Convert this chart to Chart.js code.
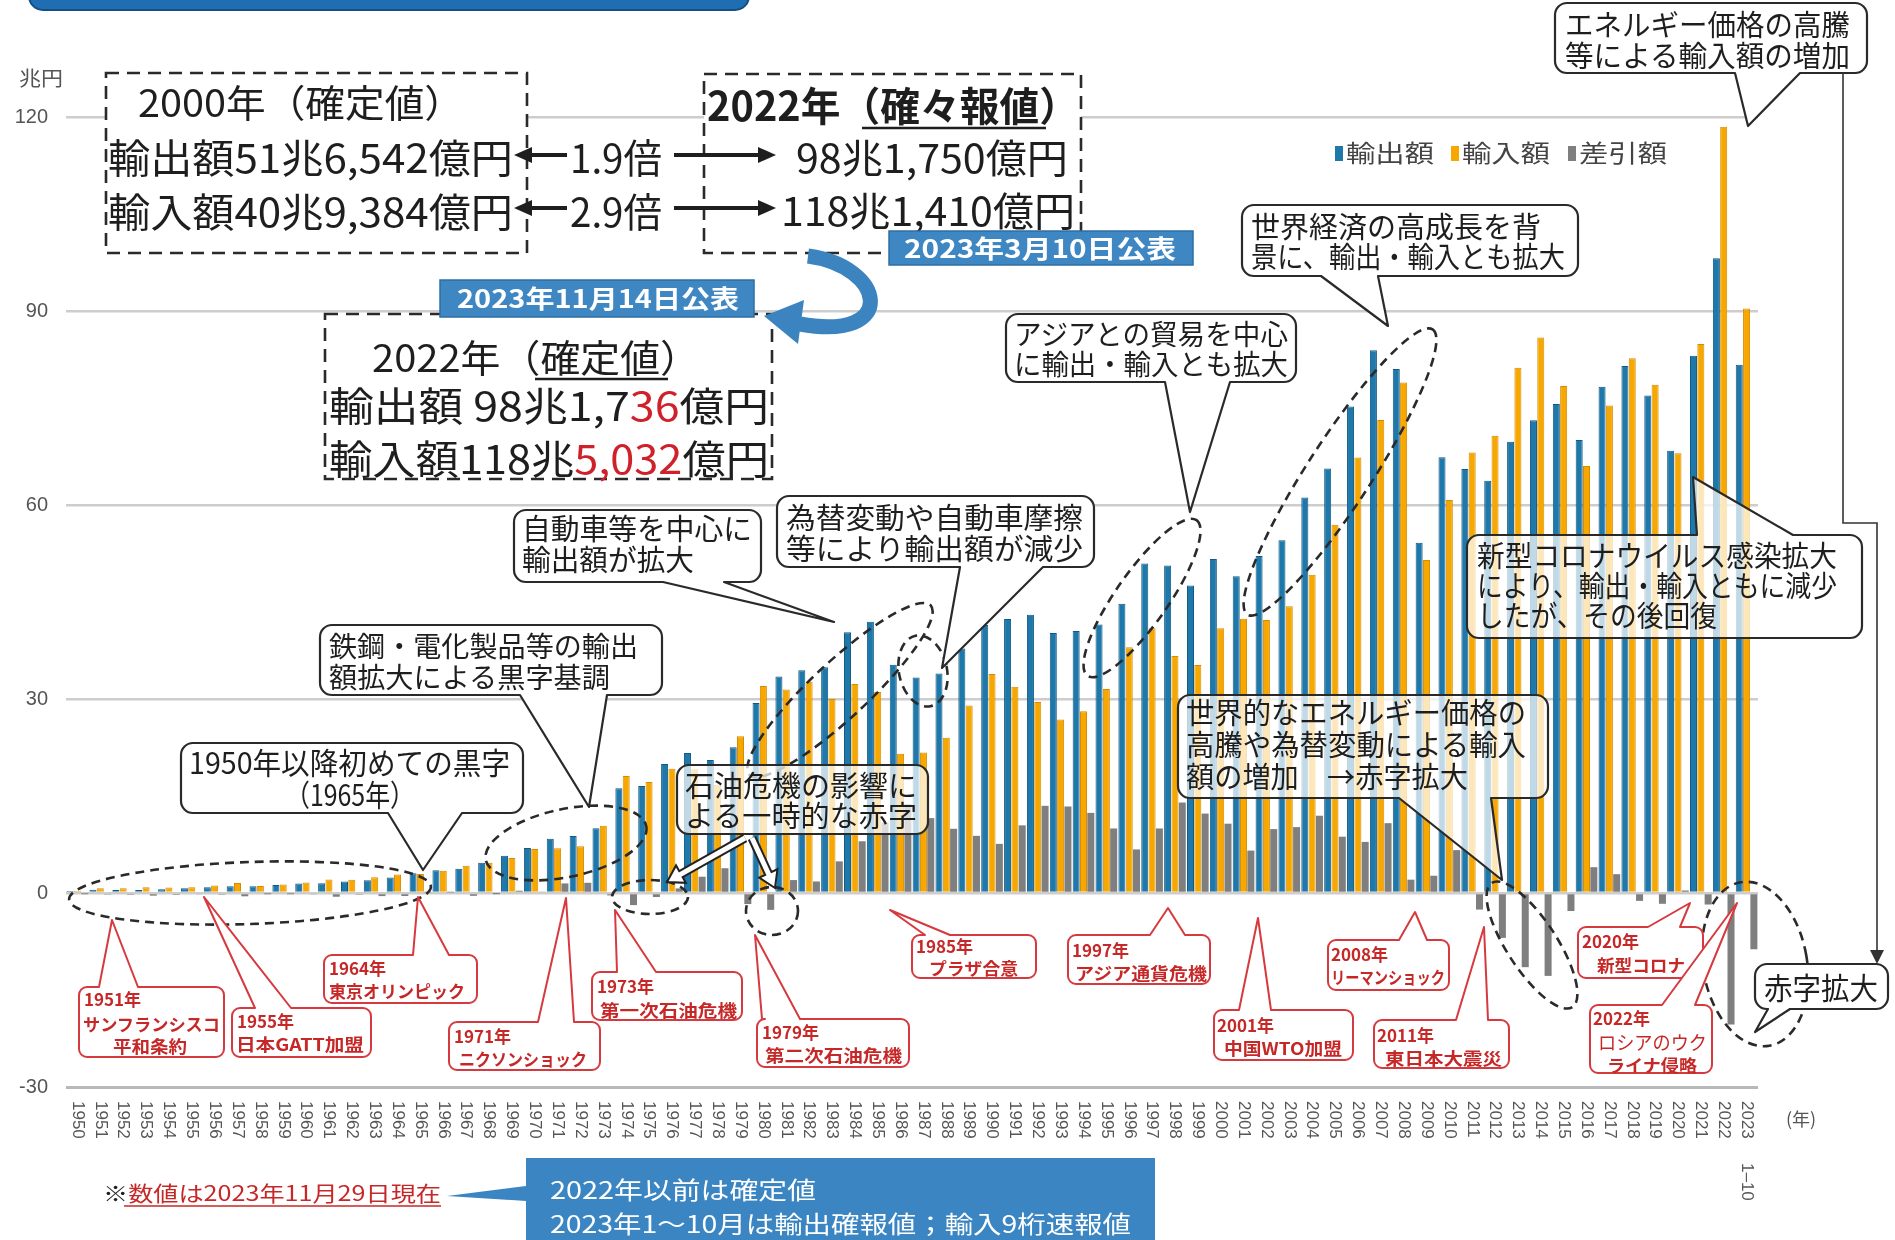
<!DOCTYPE html>
<html><head><meta charset="utf-8">
<script src="https://cdn.jsdelivr.net/npm/chart.js"></script>
<style>
html,body{margin:0;padding:0;background:#fff;}
#wrap{position:relative;width:1895px;height:1240px;overflow:hidden;background:#fff;}
#c{position:absolute;left:0;top:0;}
#ov{position:absolute;left:0;top:0;}
#ov text{font-family:'Noto Sans CJK JP','Noto Sans',sans-serif;}
</style></head><body>
<div id="wrap"><canvas id="c" width="1895" height="1240"></canvas>
<svg id="ov" width="1895" height="1240" xmlns="http://www.w3.org/2000/svg"></svg></div>
<script>
// ---- data (兆円) ----
const years = ['1950','1951','1952','1953','1954','1955','1956','1957','1958','1959',
 '1960','1961','1962','1963','1964','1965','1966','1967','1968','1969',
 '1970','1971','1972','1973','1974','1975','1976','1977','1978','1979',
 '1980','1981','1982','1983','1984','1985','1986','1987','1988','1989',
 '1990','1991','1992','1993','1994','1995','1996','1997','1998','1999',
 '2000','2001','2002','2003','2004','2005','2006','2007','2008','2009',
 '2010','2011','2012','2013','2014','2015','2016','2017','2018','2019',
 '2020','2021','2022','2023'];
const lastYearNote = '1–10';
const exportValues = [0.30,0.49,0.46,0.46,0.59,0.72,0.90,1.03,1.04,1.24,
 1.46,1.52,1.77,1.96,2.40,3.04,3.52,3.76,4.67,5.76,
 6.95,8.39,8.81,10.03,16.21,16.55,19.93,21.65,20.56,22.53,
 29.38,33.47,34.43,34.91,40.33,41.96,35.29,33.32,33.94,37.82,
 41.46,42.36,43.01,40.20,40.50,41.53,44.73,50.94,50.65,47.55,
 51.65,48.98,52.11,54.55,61.17,65.66,75.25,83.93,81.02,54.17,
 67.40,65.55,63.75,69.77,73.09,75.61,70.04,78.29,81.48,76.93,
 68.40,83.09,98.17,81.70];
const importValues = [0.35,0.74,0.73,0.87,0.86,0.89,1.16,1.54,1.09,1.30,
 1.62,2.10,2.03,2.44,2.86,2.94,3.43,4.20,4.68,5.41,
 6.80,6.91,7.23,10.40,18.08,17.17,19.23,19.13,16.73,24.25,
 32.00,31.46,32.66,30.01,32.32,31.08,21.55,21.74,24.01,28.98,
 33.86,31.90,29.53,26.83,28.10,31.55,37.99,40.96,36.65,35.27,
 40.94,42.42,42.23,44.36,49.22,56.95,67.34,73.14,78.95,51.50,
 60.77,68.11,70.69,81.24,85.91,78.41,66.04,75.38,82.70,78.60,
 68.01,84.88,118.50,90.40];
const balanceValues = [-0.05,-0.25,-0.27,-0.41,-0.28,-0.17,-0.26,-0.51,-0.05,-0.06,
 -0.16,-0.58,-0.26,-0.48,-0.46,0.10,0.09,-0.44,-0.01,0.35,
 0.16,1.48,1.58,-0.37,-1.87,-0.62,0.71,2.52,3.83,-1.71,
 -2.61,2.00,1.78,4.89,8.00,10.87,13.74,11.58,9.93,8.84,
 7.60,10.46,13.48,13.38,12.39,9.98,6.74,9.98,13.99,12.28,
 10.72,6.56,9.88,10.19,11.95,8.71,7.90,10.80,2.06,2.67,
 6.63,-2.56,-6.94,-11.47,-12.82,-2.79,3.99,2.91,-1.22,-1.67,
 0.39,-1.78,-20.33,-8.70];
const seriesNames = ['輸出額','輸入額','差引額'];
const seriesColors = ['#1f78aa','#f6a800','#7f7f7f'];

// ---- chart ----
const xLabelPlugin = {
  id:'xlabels',
  afterDraw(chart){
    const ctx=chart.ctx, xs=chart.scales.x;
    ctx.save();
    ctx.fillStyle='#555';
    ctx.font="17px 'Liberation Sans Narrow','Liberation Sans',sans-serif";
    ctx.textBaseline='middle'; ctx.textAlign='left';
    years.forEach((y,i)=>{
      const x=xs.getPixelForValue(i);
      ctx.save(); ctx.translate(x,1101); ctx.rotate(Math.PI/2);
      ctx.fillText(y,0,0);
      if(i===years.length-1) ctx.fillText(lastYearNote,62,0);
      ctx.restore();
    });
    ctx.restore();
  }
};
new Chart(document.getElementById('c'),{
  type:'bar',
  data:{labels:years,datasets:[
    {label:seriesNames[0],data:exportValues,backgroundColor:seriesColors[0],borderColor:'#125a84',borderWidth:1},
    {label:seriesNames[1],data:importValues,backgroundColor:seriesColors[1],borderColor:'#d98a00',borderWidth:1},
    {label:seriesNames[2],data:balanceValues,backgroundColor:seriesColors[2],borderWidth:0}
  ]},
  options:{
    responsive:false,animation:false,devicePixelRatio:1,
    layout:{padding:{left:10,right:137,top:117,bottom:153}},
    datasets:{bar:{categoryPercentage:0.96,barPercentage:0.96}},
    plugins:{legend:{display:false},tooltip:{enabled:false}},
    scales:{
      x:{grid:{display:false},border:{display:false},ticks:{display:false},afterFit(s){s.height=0;}},
      y:{min:-30,max:120,afterFit(s){s.width=56;},border:{display:false},
        grid:{color:c=>(c.tick&&c.tick.value===-30)?'#b8b8b8':'#cdcdcd',lineWidth:c=>(c.tick&&c.tick.value===-30)?3:2.5,drawTicks:false},
        ticks:{stepSize:30,padding:18,color:'#555',font:{family:"'Liberation Sans Narrow','Liberation Sans',sans-serif",size:20}}}
    }
  },
  plugins:[xLabelPlugin]
});

// ---- annotation overlay ----
const svg=document.getElementById('ov');
const NS='http://www.w3.org/2000/svg';
function el(tag,attrs,parent){const e=document.createElementNS(NS,tag);for(const k in attrs)e.setAttribute(k,attrs[k]);(parent||svg).appendChild(e);return e;}
function txt(parts,x,y,size,len,o){
  o=o||{};
  const t=el('text',{x:x,y:y,'font-size':size,fill:o.fill||'#1e1e1e','font-weight':o.weight||400});
  if(len){t.setAttribute('textLength',len);t.setAttribute('lengthAdjust','spacingAndGlyphs');}
  if(typeof parts==='string') t.textContent=parts;
  else parts.forEach(p=>{const s=el('tspan',{fill:p[1]},t);s.textContent=p[0];});
  return t;
}
function bubblePath(x,y,w,h,r,t){
  let d=`M${x+r},${y}`;
  if(t&&t.side==='top') d+=` L${t.a},${y} L${t.tx},${t.ty} L${t.b},${y}`;
  d+=` L${x+w-r},${y} A${r},${r} 0 0 1 ${x+w},${y+r}`;
  if(t&&t.side==='right') d+=` L${x+w},${t.a} L${t.tx},${t.ty} L${x+w},${t.b}`;
  d+=` L${x+w},${y+h-r} A${r},${r} 0 0 1 ${x+w-r},${y+h}`;
  if(t&&t.side==='bottom') d+=` L${t.b},${y+h} L${t.tx},${t.ty} L${t.a},${y+h}`;
  d+=` L${x+r},${y+h} A${r},${r} 0 0 1 ${x},${y+h-r}`;
  if(t&&t.side==='left') d+=` L${x},${t.b} L${t.tx},${t.ty} L${x},${t.a}`;
  d+=` L${x},${y+r} A${r},${r} 0 0 1 ${x+r},${y} Z`;
  return d;
}

// top banner
el('rect',{x:29,y:-24,width:720,height:34,rx:14,fill:'#1f6db3',stroke:'#134f86','stroke-width':2});
// unit label
txt('兆円',19,86,20,44,{fill:'#555'});
txt('(年)',1786,1126,18,null,{fill:'#555'});

// dashed boxes
const dash={fill:'#fff',stroke:'#2a2a2a','stroke-width':2.6,'stroke-dasharray':'13 8'};
el('rect',Object.assign({x:106,y:73,width:421,height:180},dash));
el('rect',Object.assign({x:704,y:74,width:377,height:179},dash));
el('rect',Object.assign({x:325,y:314,width:447,height:165},dash));

// box 1
txt('2000年（確定値）',138,117,38,326);
txt('輸出額51兆6,542億円',108,173,40,405);
txt('輸入額40兆9,384億円',108,227,40,405);
txt('1.9倍',570,173,40,92);
txt('2.9倍',570,227,40,92);
function hArrow(x1,x2,y){
  const dir=Math.sign(x2-x1);
  el('line',{x1:x1,y1:y,x2:x2-dir*14,y2:y,stroke:'#1e1e1e','stroke-width':4});
  el('polygon',{points:`${x2},${y} ${x2-dir*18},${y-8} ${x2-dir*18},${y+8}`,fill:'#1e1e1e'});
}
hArrow(567,514,155); hArrow(674,776,155);
hArrow(567,514,208); hArrow(674,776,208);
// box 2
txt('2022年（確々報値）',707,121,40,372,{weight:700});
el('line',{x1:862,y1:128,x2:1046,y2:128,stroke:'#1e1e1e','stroke-width':2.5});
txt('98兆1,750億円',796,173,40,272);
txt('118兆1,410億円',781,226,40,294);
// box 3
txt('2022年（確定値）',372,372,38,328);
el('line',{x1:535,y1:379,x2:668,y2:379,stroke:'#1e1e1e','stroke-width':2.5});
txt([['輸出額  98兆1,7','#1e1e1e'],['36','#d0202a'],['億円','#1e1e1e']],329,421,40,440);
txt([['輸入額118兆','#1e1e1e'],['5,032','#d0202a'],['億円','#1e1e1e']],329,474,40,440);

// blue labels
el('rect',{x:889,y:231,width:304,height:34,fill:'#3e87c3',stroke:'#2d6fa4','stroke-width':1.5});
txt('2023年3月10日公表',904,258,25,272,{fill:'#fff',weight:700});
el('rect',{x:440,y:280,width:314,height:37,fill:'#3e87c3',stroke:'#2d6fa4','stroke-width':1.5});
txt('2023年11月14日公表',457,308,25,282,{fill:'#fff',weight:700});
// curved blue arrow
el('path',{d:'M808 256 C 885 266, 900 342, 800 324',fill:'none',stroke:'#3c84bf','stroke-width':15});
el('polygon',{points:'764,316 804,300 798,344',fill:'#3c84bf'});

// legend
const legX=[1335,1451,1568];
seriesNames.forEach((n,i)=>{
  el('rect',{x:legX[i],y:146,width:8,height:15,fill:seriesColors[i]});
  txt(n,legX[i]+11,162,24,88,{fill:'#444'});
});

// dashed ellipses
const ells=[[250,893,181,31,-2],[566,843,82,34,-12],[840,690,124,28,-43],[923,671,24,36,-12],
 [1142,598,95,26,-55],[1340,472,170,32,-57],[650,897,38,17,0],[772,911,26,24,0],
 [1532,945,74,25,57],[1755,964,52,83,-10]];
ells.forEach(e=>el('ellipse',{cx:e[0],cy:e[1],rx:e[2],ry:e[3],transform:`rotate(${e[4]} ${e[0]} ${e[1]})`,fill:'none',stroke:'#2a2a2a','stroke-width':2.6,'stroke-dasharray':'9 6'}));

// black callouts
const semi='rgba(255,255,255,0.72)';
const callouts=[
 {x:1555,y:3,w:312,h:70,t:{side:'bottom',a:1735,b:1800,tx:1748,ty:126},s:29,l:[['エネルギー価格の高騰',1565,36,285],['等による輸入額の増加',1565,67,285]]},
 {x:1242,y:205,w:336,h:71,t:{side:'bottom',a:1321,b:1378,tx:1388,ty:326},s:29,l:[['世界経済の高成長を背',1251,238,290],['景に、輸出・輸入とも拡大',1251,268,314]]},
 {x:1006,y:314,w:290,h:68,t:{side:'bottom',a:1165,b:1230,tx:1190,ty:512},s:28,l:[['アジアとの貿易を中心',1014,345,274],['に輸出・輸入とも拡大',1014,375,274]]},
 {x:777,y:496,w:317,h:71,t:{side:'bottom',a:960,b:1043,tx:942,ty:668},s:29,l:[['為替変動や自動車摩擦',786,529,297],['等により輸出額が減少',786,560,297]]},
 {x:514,y:510,w:247,h:72,t:{side:'bottom',a:663,b:724,tx:834,ty:622},s:29,l:[['自動車等を中心に',522,540,230],['輸出額が拡大',522,571,172]]},
 {x:320,y:625,w:342,h:70,t:{side:'bottom',a:520,b:607,tx:589,ty:807},s:28,l:[['鉄鋼・電化製品等の輸出',329,657,309],['額拡大による黒字基調',329,688,281]]},
 {x:181,y:743,w:342,h:70,t:{side:'bottom',a:388,b:462,tx:423,ty:870},s:30,l:[['1950年以降初めての黒字',189,774,321],['（1965年）',285,806,130]]},
 {x:677,y:765,w:251,h:69,fill:semi,s:29,l:[['石油危機の影響に',685,797,232],['よる一時的な赤字',685,827,232]]},
 {x:1178,y:695,w:370,h:103,fill:semi,t:{side:'bottom',a:1399,b:1491,tx:1502,ty:880},s:29,l:[['世界的なエネルギー価格の',1186,724,340],['高騰や為替変動による輸入',1186,756,340],['額の増加　→赤字拡大',1186,788,282]]},
 {x:1467,y:535,w:395,h:103,fill:semi,t:{side:'top',a:1697,b:1793,tx:1693,ty:477},s:29,l:[['新型コロナウイルス感染拡大',1477,567,360],['により、輸出・輸入ともに減少',1477,597,360],['したが、その後回復',1477,627,240]]},
 {x:1755,y:964,w:133,h:45,t:{side:'bottom',a:1768,b:1790,tx:1755,ty:1032},s:30,l:[['赤字拡大',1764,999,114]]}
];
callouts.forEach(c=>{
  el('path',{d:bubblePath(c.x,c.y,c.w,c.h,12,c.t),fill:c.fill||'#fff',stroke:'#2a2a2a','stroke-width':2.2,'stroke-linejoin':'round'});
  c.l.forEach(l=>txt(l[0],l[1],l[2],c.s,l[3]));
});
// connector from top callout to 赤字拡大
el('polyline',{points:'1843,73 1843,523 1877,523 1877,954',fill:'none',stroke:'#333','stroke-width':1.6});
el('polygon',{points:'1870,950 1884,950 1877,964',fill:'#333'});

// hollow arrows from 石油危機 callout
function hollowArrow(x1,y1,x2,y2){
  const dx=x2-x1,dy=y2-y1,L=Math.hypot(dx,dy),ux=dx/L,uy=dy/L,nx=-uy,ny=ux,hl=16,hw=10;
  const bx=x2-ux*hl,by=y2-uy*hl;
  el('line',{x1:x1,y1:y1,x2:bx,y2:by,stroke:'#222','stroke-width':9});
  el('polygon',{points:`${x2},${y2} ${bx+nx*hw},${by+ny*hw} ${bx-nx*hw},${by-ny*hw}`,fill:'#fff',stroke:'#222','stroke-width':2});
  el('line',{x1:x1,y1:y1,x2:bx+ux*2,y2:by+uy*2,stroke:'#fff','stroke-width':5});
}
hollowArrow(745,838,667,882);
hollowArrow(752,838,775,888);

// red event callouts
const red='#c62828';
const events=[
 {x:79,y:987,w:145,h:70,t:{side:'top',a:99,b:138,tx:112,ty:920},l:[['1951年',84,1006,null],['サンフランシスコ',83,1031,137],['平和条約',113,1053,74]]},
 {x:232,y:1008,w:139,h:49,t:{side:'top',a:255,b:291,tx:204,ty:897},l:[['1955年',237,1028,null],['日本GATT加盟',236,1051,128]]},
 {x:324,y:955,w:153,h:48,t:{side:'top',a:413,b:449,tx:418,ty:897},l:[['1964年',329,975,null],['東京オリンピック',329,998,136]]},
 {x:449,y:1022,w:151,h:48,t:{side:'top',a:538,b:574,tx:566,ty:898},l:[['1971年',454,1043,null],['ニクソンショック',459,1066,128]]},
 {x:592,y:972,w:150,h:48,t:{side:'top',a:617,b:656,tx:615,ty:910},l:[['1973年',597,993,null],['第一次石油危機',600,1017,137]]},
 {x:757,y:1019,w:152,h:48,t:{side:'top',a:762,b:800,tx:755,ty:935},l:[['1979年',762,1039,null],['第二次石油危機',765,1062,137]]},
 {x:912,y:935,w:124,h:43,t:{side:'top',a:925,b:950,tx:890,ty:910},l:[['1985年',916,953,null],['プラザ合意',929,975,89]]},
 {x:1068,y:935,w:142,h:49,t:{side:'top',a:1150,b:1185,tx:1168,ty:908},l:[['1997年',1072,957,null],['アジア通貨危機',1075,980,132]]},
 {x:1214,y:1010,w:139,h:50,t:{side:'top',a:1239,b:1271,tx:1258,ty:918},l:[['2001年',1217,1032,null],['中国WTO加盟',1224,1055,118]]},
 {x:1328,y:940,w:121,h:50,t:{side:'top',a:1399,b:1427,tx:1415,ty:912},l:[['2008年',1331,961,null],['リーマンショック',1331,984,114]]},
 {x:1374,y:1020,w:135,h:48,t:{side:'top',a:1456,b:1488,tx:1484,ty:927},l:[['2011年',1377,1042,null],['東日本大震災',1385,1065,117]]},
 {x:1578,y:927,w:125,h:51,t:{side:'top',a:1648,b:1680,tx:1690,ty:903},l:[['2020年',1582,948,null],['新型コロナ',1597,972,88]]},
 {x:1590,y:1005,w:122,h:68,t:{side:'top',a:1662,b:1695,tx:1737,ty:903},l:[['2022年',1593,1025,null],['ロシアのウク',1598,1050,109,400],['ライナ侵略',1607,1072,90]]}
];
events.forEach(c=>{
  el('path',{d:bubblePath(c.x,c.y,c.w,c.h,8,c.t),fill:'#fff',stroke:'#d63a3f','stroke-width':2,'stroke-linejoin':'round'});
  c.l.forEach(l=>txt(l[0],l[1],l[2],l[4]?19:17,l[3],{fill:red,weight:l[4]||700}));
});

// bottom notes
txt([['※','#1e1e1e'],['数値は2023年11月29日現在',red]],103,1201,21,338);
el('line',{x1:124,y1:1206,x2:441,y2:1206,stroke:red,'stroke-width':1.6});
el('path',{d:'M526,1158 L1155,1158 L1155,1250 L526,1250 L526,1201 L447,1196 L526,1186 Z',fill:'#3b86c2'});
txt('2022年以前は確定値',550,1199,24,266,{fill:'#fff'});
txt('2023年1〜10月は輸出確報値；輸入9桁速報値',550,1233,24,581,{fill:'#fff'});
</script>
</body></html>
